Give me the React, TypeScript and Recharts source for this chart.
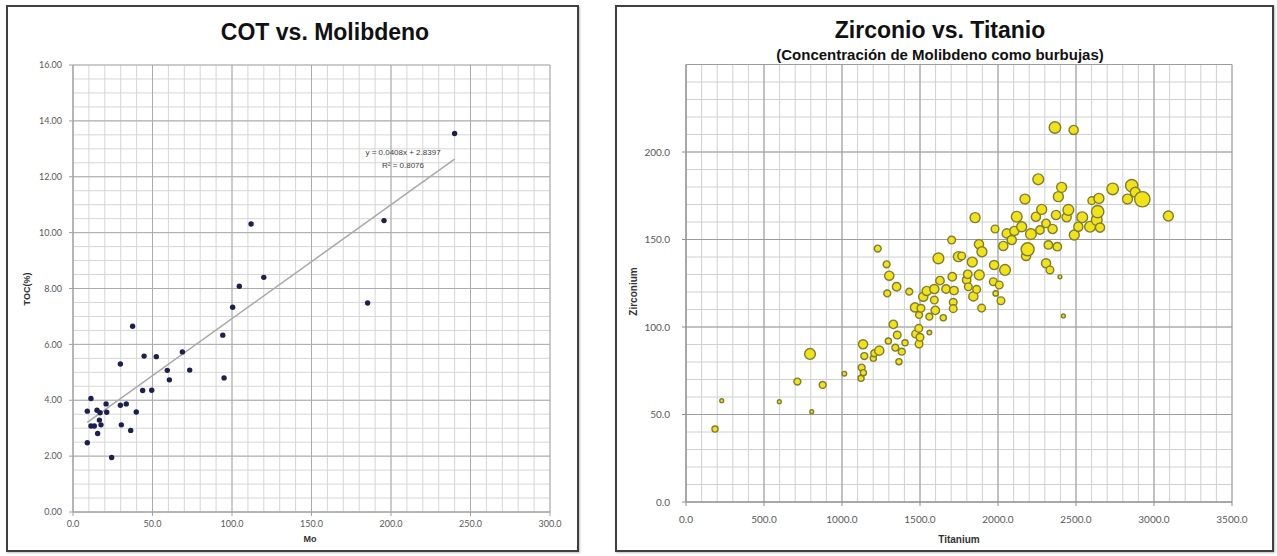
import { ScatterChart, Scatter, XAxis, YAxis, ZAxis, CartesianGrid, ReferenceLine } from 'recharts';

// ---- COT vs. Molibdeno ----
const moValues = [9, 9, 11.3, 11.3, 13.4, 15.1, 15.5, 16.6, 17, 17.6, 20.8, 21.2, 24.3, 29.8, 29.8, 30.4, 33.5, 36.3, 37.5, 39.8, 43.8, 44.7, 49.5, 52.4, 59.3, 60.6, 68.8, 73.4, 94.2, 95, 100.4, 104.6, 112, 120, 185.3, 195.6, 240];
const tocValues = [3.61, 2.48, 4.06, 3.08, 3.08, 3.64, 2.81, 3.29, 3.55, 3.12, 3.87, 3.57, 1.95, 5.3, 3.82, 3.12, 3.87, 2.92, 6.65, 3.58, 4.35, 5.58, 4.36, 5.56, 5.07, 4.73, 5.73, 5.08, 6.33, 4.8, 7.33, 8.08, 10.31, 8.4, 7.48, 10.43, 13.55];
// trendline end points (y = 0.0408x + 2.8397)
const trendMo = [9, 240];
const trendToc = [3.21, 12.63];
const moTicks = [0, 50, 100, 150, 200, 250, 300];
const tocTicks = [0, 2, 4, 6, 8, 10, 12, 14, 16];

// ---- Zirconio vs. Titanio (bubble = Mo) ----
const tiValues = [186, 229, 598, 714, 795, 806, 876, 1015, 1122, 1126, 1137, 1135, 1143, 1201, 1207, 1229, 1239, 1286, 1290, 1297, 1303, 1329, 1342, 1350, 1354, 1365, 1383, 1404, 1431, 1468, 1472, 1492, 1494, 1494, 1500, 1506, 1521, 1543, 1560, 1560, 1592, 1592, 1598, 1618, 1628, 1649, 1667, 1703, 1707, 1713, 1713, 1718, 1746, 1767, 1799, 1806, 1810, 1835, 1842, 1853, 1863, 1878, 1880, 1897, 1895, 1975, 1970, 1981, 1985, 2008, 2019, 2034, 2045, 2056, 2088, 2105, 2120, 2152, 2173, 2180, 2190, 2211, 2243, 2258, 2269, 2280, 2308, 2308, 2323, 2333, 2350, 2365, 2372, 2380, 2387, 2397, 2408, 2419, 2440, 2451, 2485, 2489, 2515, 2540, 2590, 2601, 2633, 2639, 2647, 2654, 2735, 2830, 2857, 2880, 2925, 3092];
const zrValues = [41.7, 57.9, 57.3, 68.8, 84.6, 51.6, 66.9, 73.3, 70.7, 76.8, 73.9, 90.1, 83.4, 82.1, 85, 144.8, 86.5, 135.8, 119.2, 92, 129.3, 101.5, 88.2, 123, 95.4, 80.2, 85.9, 91, 120.2, 111.2, 96, 99.2, 106.9, 90.3, 94.1, 110.7, 117.3, 120.6, 105.9, 96.8, 121.7, 115.4, 109.5, 139.2, 126.5, 105.3, 121.7, 149.7, 128.7, 114.1, 110.5, 120.8, 140.2, 140.6, 126.9, 130.1, 123, 137.1, 117.5, 162.5, 121.5, 147.3, 129.7, 143, 110.8, 135.4, 125.9, 156, 119.2, 124, 115, 146.3, 132.6, 153.5, 149.7, 154.9, 163, 157.3, 173.1, 140.6, 144.4, 153.1, 163, 184.4, 155.4, 167.2, 159.2, 136.4, 146.9, 132.6, 156, 214, 164, 145.9, 174.5, 128.7, 179.8, 106.3, 162.7, 166.9, 212.6, 152.6, 157.3, 162.7, 157.3, 172.2, 161.1, 165.9, 173.5, 156.8, 178.9, 173.1, 180.8, 177, 173, 163.4];
const moBubble = [38, 15, 15, 49, 118, 15, 49, 22, 38, 49, 38, 86, 49, 38, 49, 49, 86, 49, 49, 38, 86, 73, 49, 73, 60, 38, 49, 38, 49, 86, 60, 60, 49, 60, 60, 60, 86, 86, 49, 22, 86, 60, 73, 118, 73, 38, 73, 60, 73, 60, 60, 73, 101, 60, 73, 73, 60, 101, 86, 101, 60, 86, 101, 101, 60, 86, 60, 60, 29, 60, 60, 86, 118, 86, 86, 86, 118, 101, 101, 86, 173, 118, 86, 118, 73, 101, 73, 86, 73, 60, 86, 135, 86, 73, 101, 15, 101, 15, 86, 118, 86, 101, 86, 118, 118, 60, 118, 154, 101, 86, 135, 101, 154, 101, 240, 101];
const tiTicks = [0, 500, 1000, 1500, 2000, 2500, 3000, 3500];
const zrTicks = [0, 50, 100, 150, 200];

const steps = (max: number, step: number) => Array.from({ length: Math.round(max / step) + 1 }, (_, i) => i * step);

const cotData = moValues.map((mo, i) => ({ mo, toc: tocValues[i] }));
const bubbleData = tiValues.map((ti, i) => ({ ti, zr: zrValues[i], mo: moBubble[i] }));

const tickFont = { fontFamily: 'Lato, "Liberation Sans", sans-serif', fill: '#595959' };
const titleFont = '"Liberation Sans", Arial, sans-serif';

const frame = {
  position: 'absolute' as const,
  border: '2px solid #3f3f3f',
  boxShadow: '1px 1px 2px rgba(0,0,0,0.25)',
  boxSizing: 'border-box' as const,
};

function abs(left: number, top: number, extra: object = {}) {
  return { position: 'absolute' as const, left, top, ...extra };
}

const Dot = (p: any) => <circle cx={p.cx} cy={p.cy} r={2.7} fill="#1c2050" />;

export default function App() {
  return (
    <div style={{ position: 'absolute', left: 0, top: 0, width: 1277, height: 556, background: '#fff', overflow: 'hidden' }}>
      <div style={{ ...frame, left: 6, top: 5, width: 573, height: 547 }} />
      <div style={{ ...frame, left: 615, top: 5, width: 659, height: 547 }} />

      {/* left chart */}
      <div style={abs(0, 0)}>
        <ScatterChart width={600} height={556} margin={{ top: 65, right: 50, bottom: 14, left: 13 }}>
          <CartesianGrid verticalValues={steps(300, 10)} horizontalValues={steps(16, 0.5)} stroke="#d6d6d6" />
          <CartesianGrid verticalValues={moTicks} horizontalValues={tocTicks} stroke="#ababab" />
          <XAxis
            type="number"
            dataKey="mo"
            domain={[0, 300]}
            ticks={moTicks}
            interval={0}
            tickFormatter={(v: number) => v.toFixed(1)}
            height={30}
            tickSize={4}
            tickMargin={5}
            tick={{ ...tickFont, fontSize: 9 }}
            stroke="#a0a0a0"
          />
          <YAxis
            type="number"
            dataKey="toc"
            domain={[0, 16]}
            ticks={tocTicks}
            interval={0}
            tickFormatter={(v: number) => v.toFixed(2)}
            width={60}
            tickSize={4}
            tickMargin={7}
            tick={{ ...tickFont, fontSize: 9 }}
            stroke="#a0a0a0"
          />
          <ReferenceLine
            segment={[{ x: trendMo[0], y: trendToc[0] }, { x: trendMo[1], y: trendToc[1] }]}
            stroke="#a8a8a8"
            strokeWidth={1.5}
          />
          <Scatter data={cotData} fill="#1c2050" shape={Dot} isAnimationActive={false} />
        </ScatterChart>
      </div>
      <div style={abs(175, 19, { width: 300, textAlign: 'center', font: `bold 23px ${titleFont}`, color: '#111' })}>COT vs. Molibdeno</div>
      <div style={abs(348, 146, { width: 110, textAlign: 'center', font: `8px ${titleFont}`, color: '#404040', lineHeight: '13px' })}>
        y = 0.0408x + 2.8397
        <br />
        R² = 0.8076
      </div>
      <div style={abs(260, 534, { width: 100, textAlign: 'center', font: `bold 9px ${titleFont}`, color: '#333' })}>Mo</div>
      <div style={abs(-23, 284, { width: 100, textAlign: 'center', font: `bold 9px ${titleFont}`, color: '#333', transform: 'rotate(-90deg)' })}>TOC(%)</div>

      {/* right chart */}
      <div style={abs(620, 0)}>
        <ScatterChart width={657} height={556} margin={{ top: 64.5, right: 45, bottom: 24, left: 6 }}>
          <CartesianGrid verticalValues={steps(3500, 100)} horizontalValues={steps(250, 10)} stroke="#d0d0d0" />
          <CartesianGrid verticalValues={tiTicks} horizontalValues={[...zrTicks, 250]} stroke="#9c9c9c" />
          <XAxis
            type="number"
            dataKey="ti"
            domain={[0, 3500]}
            ticks={tiTicks}
            interval={0}
            tickFormatter={(v: number) => v.toFixed(1)}
            height={30}
            tickSize={4}
            tickMargin={10}
            tick={{ ...tickFont, fontSize: 10 }}
            stroke="#909090"
          />
          <YAxis
            type="number"
            dataKey="zr"
            domain={[0, 250]}
            ticks={zrTicks}
            interval={0}
            tickFormatter={(v: number) => v.toFixed(1)}
            width={60}
            tickSize={4}
            tickMargin={12}
            tick={{ ...tickFont, fontSize: 10 }}
            stroke="#909090"
          />
          <ZAxis type="number" dataKey="mo" domain={[0, 240]} range={[0, 185]} />
          <Scatter data={bubbleData} fill="#f0e418" stroke="#7f7c32" strokeWidth={1.4} isAnimationActive={false} />
        </ScatterChart>
      </div>
      <div style={abs(740, 17, { width: 400, textAlign: 'center', font: `bold 23px ${titleFont}`, color: '#111' })}>Zirconio vs. Titanio</div>
      <div style={abs(690, 46, { width: 500, textAlign: 'center', font: `bold 15px ${titleFont}`, color: '#111' })}>
        (Concentración de Molibdeno como burbujas)
      </div>
      <div style={abs(909, 534, { width: 100, textAlign: 'center', font: `bold 10px ${titleFont}`, color: '#333' })}>Titanium</div>
      <div style={abs(583, 286, { width: 100, textAlign: 'center', font: `bold 10px ${titleFont}`, color: '#333', transform: 'rotate(-90deg)' })}>Zirconium</div>
    </div>
  );
}
